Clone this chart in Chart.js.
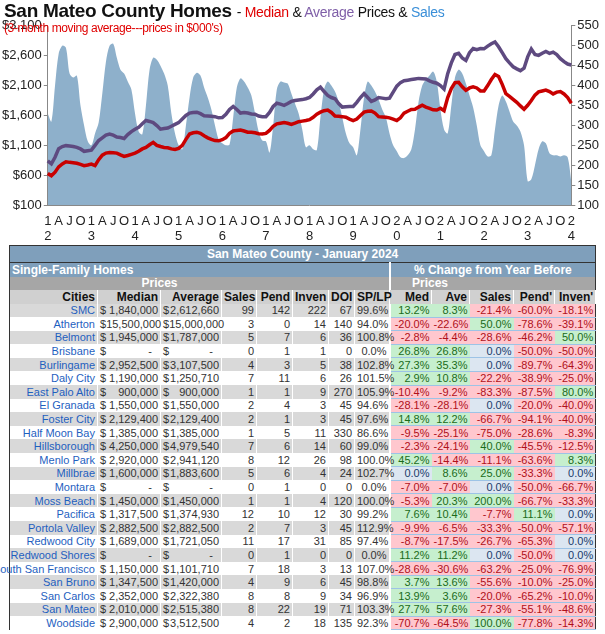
<!DOCTYPE html>
<html><head><meta charset="utf-8">
<script src="https://cdn.jsdelivr.net/npm/chart.js@4.4.1/dist/chart.umd.min.js"></script>
<style>
body{margin:0;width:605px;height:634px;overflow:hidden;background:#fff;font-family:Arial,"Liberation Sans",sans-serif;position:relative}
#t1{position:absolute;left:4px;top:0px;font-size:19px;font-weight:bold;color:#111;letter-spacing:-0.3px;white-space:nowrap;z-index:2}
#t1 span{font-size:14px;font-weight:normal}
#t2{position:absolute;left:4px;top:21px;font-size:12px;color:#e00000;letter-spacing:-0.4px;z-index:2}
#cw{position:absolute;left:0;top:16px;width:605px;height:229px}
table{position:absolute;left:9px;top:245px;border-collapse:collapse;table-layout:fixed;width:586px;font-size:11px}
td{padding:0 2px;white-space:nowrap;overflow:visible;line-height:12px;box-sizing:border-box}
.blue{background:#7f9fbb;color:#fff;font-weight:bold}
.gray{background:#a6a6a6;color:#fff;font-weight:bold}
.hdr td{background:#d0d0d0;font-weight:bold;color:#111;text-align:right;font-size:12px;border-right:1px solid #fff;height:14px}
.r td{height:13.6px;color:#333;text-align:right}
.r.a td.l{background:#d9d9d9}
.r td.c{color:#1f5fbf}
.r td.l{border-right:1px solid #fff}
.g{background:#c6efce !important;color:#1a6b1a !important}
.n{background:#ffc7ce !important;color:#b0101a !important}
.z{background:#dce6f1 !important;color:#1a3a6b !important}
.r td.x{border-bottom:1px solid #9dc3e6}
</style></head><body>
<div id="t1">San Mateo County Homes <span>- <b style="color:#e00000;font-weight:normal">Median</b> &amp; <b style="color:#7f5fa8;font-weight:normal">Average</b> Prices &amp; <b style="color:#3a8fd8;font-weight:normal">Sales</b></span></div>
<div id="t2">(3-month moving average---prices in $000's)</div>
<div id="cw"><canvas id="c"></canvas></div>
<table id="tb"></table>
<script>
const startYear = 2012;
const medianPrice = [
630,590,650,740,790,825,815,810,800,780,760,770,
785,760,860,935,970,980,975,970,940,915,930,950,
970,1000,1040,1065,1110,1150,1100,1080,1065,1060,1040,1030,
1050,1100,1200,1290,1310,1320,1300,1260,1225,1200,1180,1175,
1195,1230,1300,1340,1350,1355,1340,1320,1320,1310,1295,1290,
1300,1350,1420,1460,1470,1480,1470,1450,1470,1495,1505,1515,
1530,1570,1620,1655,1680,1690,1650,1590,1585,1580,1570,1540,
1515,1540,1600,1655,1670,1675,1640,1580,1575,1570,1560,1540,
1515,1560,1640,1670,1700,1705,1740,1770,1740,1720,1695,1690,
1720,1680,1900,2050,2150,2155,2080,2020,2060,2080,2060,2010,
2010,2100,2200,2285,2250,2120,1965,1920,1870,1820,1760,1705,
1770,1850,1940,1995,2010,2025,2000,1960,1990,2000,1960,1900,
1805];
const averagePrice = [
840,790,900,1045,1080,1095,1090,1080,1065,1040,1000,1010,
1020,1100,1180,1225,1270,1290,1270,1240,1230,1215,1280,1330,
1370,1400,1460,1515,1500,1480,1430,1370,1380,1390,1420,1450,
1480,1540,1600,1640,1650,1655,1630,1595,1590,1585,1580,1560,
1565,1620,1700,1750,1700,1640,1650,1640,1625,1620,1590,1580,
1580,1650,1750,1805,1790,1770,1800,1835,1850,1860,1865,1880,
1900,1960,2030,2075,2000,1935,1900,1880,1800,1740,1745,1750,
1750,1820,1900,1965,1900,1835,1860,1900,1890,1880,1890,1990,
2090,2150,2180,2190,2200,2210,2220,2215,2210,2180,2155,2140,
2100,2040,2300,2480,2620,2640,2560,2520,2650,2720,2700,2720,
2715,2760,2800,2830,2750,2650,2550,2480,2415,2380,2350,2390,
2580,2710,2620,2605,2640,2670,2640,2660,2620,2550,2500,2460,
2445];
const sales = [
330,310,400,480,500,495,430,420,425,350,300,260,
250,280,307,380,460,500,505,470,440,430,410,390,
330,285,278,350,440,470,465,450,430,400,330,280,
250,240,300,370,420,432,425,395,370,340,300,265,
255,250,252,320,395,418,410,395,375,330,285,262,
260,232,300,390,410,408,405,380,355,330,290,245,
250,240,238,320,390,410,400,385,360,320,280,255,
245,225,290,370,410,400,385,365,340,320,280,250,
235,220,218,225,240,290,360,400,415,425,435,410,
340,290,280,350,420,440,430,405,375,345,300,250,
235,222,225,290,350,375,360,335,310,300,285,250,
160,165,200,240,260,255,230,225,225,222,225,220,
160];
const leftTicks = [100,600,1100,1600,2100,2600,3100];
const rightTicks = [100,150,200,250,300,350,400,450,500,550];

const labels = medianPrice.map((v,i)=>{
  const m=i%12, y=startYear+Math.floor(i/12);
  if(m===0) return [String(Math.floor(y/10)%10), String(y%10)];
  if(m===3) return 'A'; if(m===6) return 'J'; if(m===9) return 'O';
  return '';
});

new Chart(document.getElementById('c'),{
  type:'line',
  data:{labels,datasets:[
    {label:'Median',data:medianPrice,yAxisID:'y',borderColor:'#c80000',borderWidth:3.5,pointRadius:0,tension:0,order:0},
    {label:'Average',data:averagePrice,yAxisID:'y',borderColor:'#5e4a80',borderWidth:3.5,pointRadius:0,tension:0,order:1},
    {label:'Sales',data:sales,yAxisID:'y2',borderColor:'#8eb0cb',backgroundColor:'#8eb0cb',borderWidth:0,pointRadius:0,fill:'start',tension:0.3,order:2}
  ]},
  options:{
    responsive:true,maintainAspectRatio:false,animation:false,
    layout:{padding:{left:0,right:4,top:4,bottom:0}},
    plugins:{legend:{display:false},tooltip:{enabled:false}},
    scales:{
      x:{grid:{display:false},border:{color:'#888'},
         ticks:{autoSkip:false,maxRotation:0,minRotation:0,padding:1,font:{family:'Arial',size:13,lineHeight:1.15},color:'#222'}},
      y:{position:'left',min:100,max:3100,
         afterBuildTicks:a=>{a.ticks=leftTicks.map(v=>({value:v}));},
         grid:{drawOnChartArea:false,tickLength:4,color:'#888'},border:{color:'#888'},
         ticks:{callback:v=>'$'+v.toLocaleString('en-US'),font:{family:'Arial',size:13},color:'#222',padding:2}},
      y2:{position:'right',min:100,max:550,
         afterBuildTicks:a=>{a.ticks=rightTicks.map(v=>({value:v}));},
         grid:{drawOnChartArea:false,tickLength:4,color:'#888'},border:{color:'#888'},
         ticks:{font:{family:'Arial',size:13},color:'#222',padding:2}}
    }
  }
});

// table data
const cities=['SMC','Atherton','Belmont','Brisbane','Burlingame','Daly City','East Palo Alto','El Granada','Foster City','Half Moon Bay','Hillsborough','Menlo Park','Millbrae','Montara','Moss Beach','Pacifica','Portola Valley','Redwood City','Redwood Shores','South San Francisco','San Bruno','San Carlos','San Mateo','Woodside'];
const medians=[1840000,15500000,1945000,0,2952500,1190000,900000,1550000,2129400,1385000,4250000,2920000,1600000,0,1450000,1317500,2882500,1689000,0,1150000,1347500,2352000,2010000,2900000];
const averages=[2612660,15000000,1787000,0,3107500,1250710,900000,1550000,2129400,1385000,4979540,2941120,1883600,0,1450000,1374930,2882500,1721050,0,1101710,1420000,2322380,2515380,3512500];
const salesN=[99,3,5,0,4,7,1,2,2,1,7,8,5,0,1,12,2,11,0,7,4,8,8,4];
const pend=[142,0,7,1,3,11,1,4,1,5,6,12,6,1,1,10,7,17,1,18,9,8,22,2];
const inven=[222,14,6,1,5,6,9,3,3,11,14,26,4,0,4,12,3,31,0,3,6,9,19,18];
const doi=[67,140,36,0,38,26,270,45,45,330,60,98,24,0,120,30,45,85,0,13,45,34,71,135];
const splp=['99.6%','94.0%','100.8%','0.0%','102.8%','101.5%','105.9%','94.6%','97.6%','86.6%','99.0%','100.0%','102.7%','0.0%','100.0%','99.2%','112.9%','97.4%','0.0%','107.0%','98.8%','96.9%','103.3%','92.3%'];
const chMed=['13.2%','-20.0%','-2.8%','26.8%','27.3%','2.9%','-10.4%','-28.1%','14.8%','-9.5%','-2.3%','45.2%','0.0%','-7.0%','-5.3%','7.6%','-9.9%','-8.7%','11.2%','-28.6%','3.7%','13.9%','27.7%','-70.7%'];
const chAve=['8.3%','-22.6%','-4.4%','26.8%','35.3%','10.8%','-9.2%','-28.1%','12.2%','-25.1%','-24.1%','-14.4%','8.6%','-7.0%','20.3%','10.4%','-6.5%','-17.5%','11.2%','-30.6%','13.6%','3.6%','57.6%','-64.5%'];
const chSales=['-21.4%','50.0%','-28.6%','0.0%','0.0%','-22.2%','-83.3%','0.0%','-66.7%','-75.0%','40.0%','-11.1%','25.0%','0.0%','200.0%','-7.7%','-33.3%','-26.7%','0.0%','-63.2%','-55.6%','-20.0%','-27.3%','100.0%'];
const chPend=['-60.0%','-78.6%','-46.2%','-50.0%','-89.7%','-38.9%','-87.5%','-20.0%','-94.1%','-28.6%','-45.5%','-63.6%','-33.3%','-50.0%','-66.7%','11.1%','-50.0%','-65.3%','-50.0%','-25.0%','-10.0%','-65.2%','-55.1%','-77.8%'];
const chInven=['-18.1%','-39.1%','50.0%','-50.0%','-64.3%','-25.0%','80.0%','-40.0%','-40.0%','-8.3%','-12.5%','8.3%','0.0%','-66.7%','-33.3%','0.0%','-57.1%','0.0%','0.0%','-76.9%','-25.0%','-10.0%','-48.6%','-14.3%'];

const widths=[88,63,61,35,36,36,26,35,42,38,44,41,41];
const money=v=>v===0?'<span style="float:left">$</span>-&nbsp;&nbsp;':'<span style="float:left">$</span>'+v.toLocaleString('en-US');
const cls=s=>{const v=parseFloat(s);return v>0?'g':(v<0?'n':'z');};
let h='<colgroup>'+widths.map(w=>`<col style="width:${w}px">`).join('')+'</colgroup>';
h+='<tr><td colspan="13" class="blue" style="text-align:center;font-size:12px;border:1px solid #333;height:17px">San Mateo County - January 2024</td></tr>';
h+='<tr><td colspan="8" class="blue" style="border-left:1px solid #333;font-size:12px;height:14px">Single-Family Homes</td><td colspan="5" class="blue" style="text-align:center;font-size:12px;border-left:2px solid #fff;border-right:1px solid #333">% Change from Year Before</td></tr>';
h+='<tr><td class="gray" style="border-left:1px solid #333;height:13px"></td><td colspan="2" class="gray" style="text-align:center;font-size:12px">Prices</td><td colspan="5" class="gray"></td><td colspan="2" class="gray" style="text-align:center;font-size:12px;border-left:2px solid #fff">Prices</td><td colspan="3" class="gray" style="border-right:1px solid #333"></td></tr>';
h+='<tr class="hdr">'+['Cities','Median','Average','Sales','Pend','Inven','DOI','SP/LP','Med','Ave','Sales','Pend\'','Inven\''].map((t,i)=>`<td${i===0?' style="border-left:1px solid #333"':''}>${t}</td>`).join('')+'</tr>';
cities.forEach((c,i)=>{
  h+=`<tr class="r${i%2===0?' a':''}">`;
  h+=`<td class="l c" style="border-left:1px solid #333;direction:rtl">${c}</td>`;
  h+=`<td class="l">${money(medians[i])}</td><td class="l">${money(averages[i])}</td>`;
  h+=`<td class="l">${salesN[i]}</td><td class="l">${pend[i]}</td><td class="l">${inven[i]}</td><td class="l">${doi[i]}</td><td class="l">${splp[i]}</td>`;
  [chMed,chAve,chSales,chPend,chInven].forEach((arr,k)=>{
    h+=`<td class="x ${cls(arr[i])}" style="${k===0?'border-left:2px solid #fff;':''}${k===4?'border-right:1px solid #333;':''}">${arr[i]}</td>`;
  });
  h+='</tr>';
});
document.getElementById('tb').innerHTML=h;
</script>
</body></html>
